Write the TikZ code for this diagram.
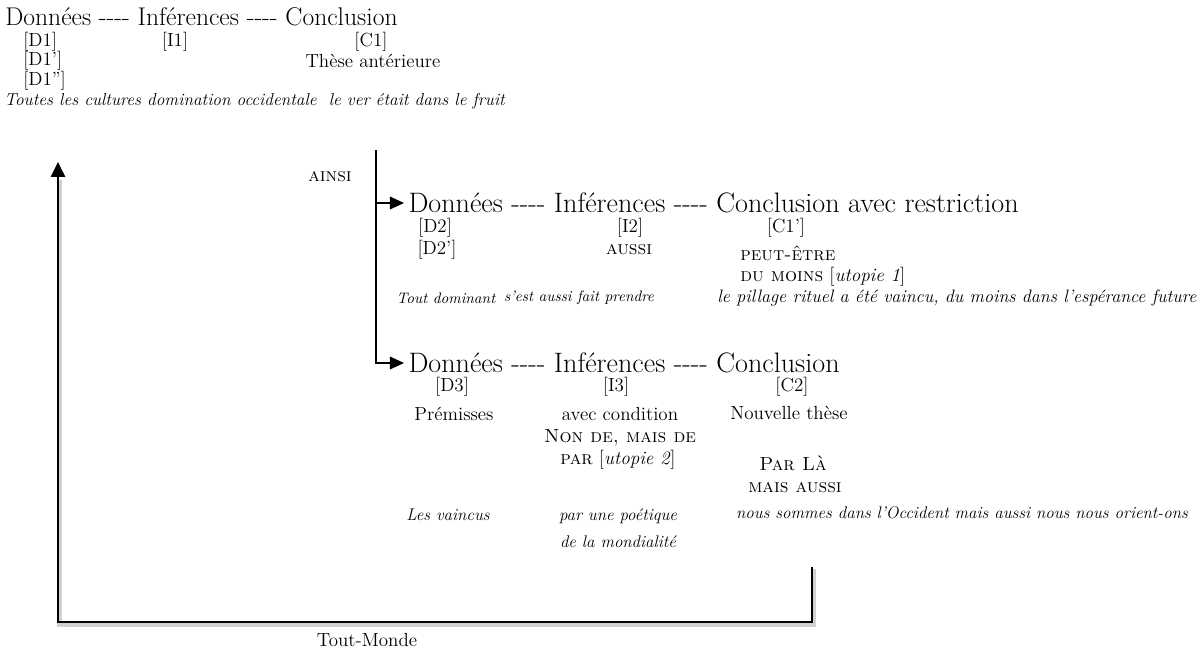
\documentclass[tikz,border=0pt]{standalone}
\usepackage{fontspec}
\usetikzlibrary{arrows.meta}
\newcommand\tirets{-\kern0pt-\kern0pt-\kern0pt-}
\tikzset{
  head/.style={anchor=west, inner xsep=3pt, inner ysep=0pt, font=\fontsize{20}{23}\selectfont},
  lab/.style={inner sep=0pt, font=\fontsize{13.5}{16}\selectfont},
  caplab/.style={inner sep=0pt, font=\fontsize{13.5}{16}\selectfont\scshape},
  ex/.style={inner sep=0pt, font=\fontsize{12}{19}\selectfont\itshape},
  link/.style={line width=0.8pt, -{Triangle[length=10pt,width=9pt]}},
  retour/.style={line width=1.2pt, -{Triangle[length=10.5pt,width=10pt]}},
  glow/.style={draw=black!18, line width=4pt, transform canvas={shift={(1pt,-1.5pt)}}},
}
\begin{document}
\begin{tikzpicture}[x=0.025cm, y=-0.025cm]
\useasboundingbox (0,0) rectangle (1201,650);
\node[head, inner xsep=0pt, font=\fontsize{18.2}{21}\selectfont] (head1) at (5,17) {Données \tirets{} Inférences \tirets{} Conclusion};
\node[lab, anchor=west] (d1) at (23,42) {[D1]};
\node[lab] (i1) at (175,42) {[I1]};
\node[lab] (c1) at (371,42) {[C1]};
\node[lab, anchor=west] (d1p) at (23,61) {[D1']};
\node[lab] (these1) at (373,61) {Thèse antérieure};
\node[lab, anchor=west] (d1pp) at (23,81) {[D1'']};
\node[ex, anchor=west, font=\fontsize{12.3}{14}\selectfont\itshape] (ex1) at (4,101) {Toutes les cultures domination occidentale\ \ le ver était dans le fruit};

\coordinate (ainsi) at (376,150);
\node[caplab] (ainsilab) at (330,177) {ainsi};

\node[head] (head2) at (404,203) {Données \tirets{} Inférences \tirets{} Conclusion avec restriction};
\node[lab] (d2) at (435,228) {[D2]};
\node[lab] (i2) at (630,228) {[I2]};
\node[lab] (c1p) at (786,228) {[C1']};
\node[lab] (d2p) at (437,250) {[D2']};
\node[caplab] (aussi) at (629,250) {aussi};
\node[caplab, anchor=west] (peut) at (740,253) {peut-être};
\node[lab, anchor=west] (moins) at (740,277) {\textsc{du moins} [\textit{utopie 1}]};
\node[ex, font=\fontsize{10.8}{13}\selectfont\itshape] (ex2a) at (446,298) {Tout dominant};
\node[ex, font=\fontsize{10.8}{13}\selectfont\itshape] (ex2b) at (579,298) {s'est aussi fait prendre};
\node[ex, font=\fontsize{12.8}{15}\selectfont\itshape] (ex2c) at (957,298) {le pillage rituel a été vaincu, du moins dans l'espérance future};

\node[head] (head3) at (404,363) {Données \tirets{} Inférences \tirets{} Conclusion};
\node[lab] (d3) at (452,387) {[D3]};
\node[lab] (i3) at (616,387) {[I3]};
\node[lab] (c2) at (792,387) {[C2]};
\node[lab] (prem) at (454,414) {Prémisses};
\node[lab] (cond) at (620,414) {avec condition};
\node[lab] (these2) at (789,413) {Nouvelle thèse};
\node[caplab] (nonde) at (620,438) {Non de, mais de};
\node[lab] (par) at (618,460) {\textsc{par} [\textit{utopie 2}]};
\node[caplab] (parla) at (793,463) {Par Là};
\node[caplab] (maisaussi) at (795,488) {mais aussi};
\node[ex] (ex3a) at (448,515) {Les vaincus};
\node[ex, align=center] (ex3b) at (618,528) {par une poétique\\de la mondialité};
\node[ex] (ex3c) at (962,513) {nous sommes dans l'Occident mais aussi nous nous orient-ons};

\draw[link] (ainsi) |- (head2.west);
\draw[link] (ainsi) |- (head3.west);

\coordinate (ret) at (812,567);
\coordinate (back) at (58,178);
\coordinate (tip) at (58,162);
\draw[glow] (ret) -- ++(0,55) -| (back);
\draw[retour] (ret) -- ++(0,55) -| (tip);
\node[lab] (tm) at (367,640) {Tout-Monde};
\end{tikzpicture}
\end{document}
